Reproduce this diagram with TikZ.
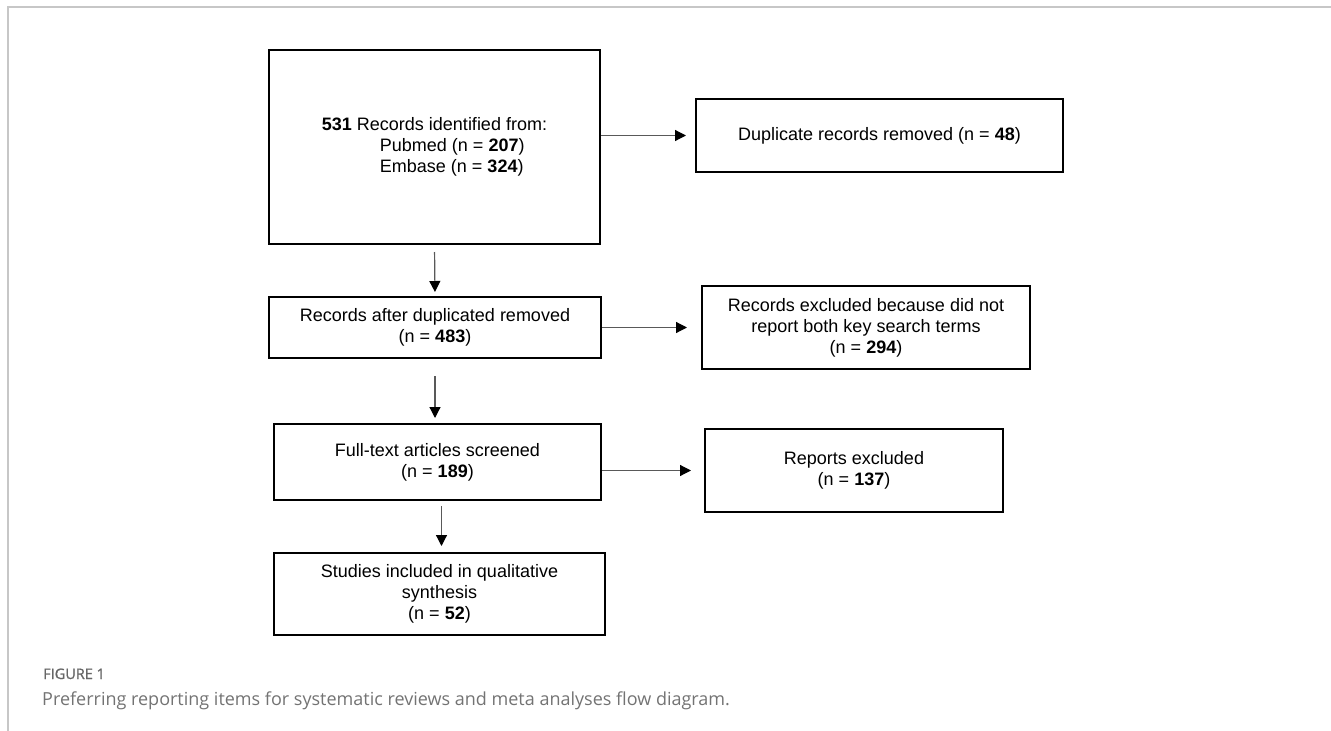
\documentclass[tikz,border=0pt]{standalone}
\usepackage{fontspec}
\setmainfont{Liberation Sans}
\newfontfamily\capfont{Open Sans}
\newfontfamily\figfont[FakeBold=1.2]{Open Sans}
\usetikzlibrary{arrows.meta}

\begin{document}
\begin{tikzpicture}[x=1pt, y=-1pt, font=\fontsize{18}{21}\selectfont,
    box/.style={draw, line width=2pt, inner sep=0pt, align=center},
    arr/.style={draw=black!65, line width=1.2pt,
      -{Triangle[length=11pt, width=11pt, color=black]}},
    caption/.style={anchor=base west, inner sep=0pt}]
  \useasboundingbox (0,0) rectangle (1331,731);
  \draw[black!22, line width=1.5pt] (8,731) -- (8,7) -- (1331,7);
  \node[box, align=left, minimum width=331pt, minimum height=194pt] (ident) at (434.5,147)
    {\textbf{531} Records identified from:\\
     \hspace*{58pt}Pubmed (n = \textbf{207})\\
     \hspace*{58pt}Embase (n = \textbf{324})};
  \node[box, minimum width=367pt, minimum height=73pt] (dup) at (879.5,135.5)
    {Duplicate records removed (n = \textbf{48})};
  \node[box, minimum width=332pt, minimum height=61pt] (after) at (435,327.5)
    {Records after duplicated removed\\(n = \textbf{483})};
  \node[box, minimum width=328pt, minimum height=83pt] (excl) at (866,327.5)
    {Records excluded because did not\\report both key search terms\\(n = \textbf{294})};
  \node[box, minimum width=327pt, minimum height=76pt] (full) at (437.5,462)
    {Full-text articles screened\\(n = \textbf{189})};
  \node[box, minimum width=298pt, minimum height=83pt] (reports) at (854,470.5)
    {Reports excluded\\(n = \textbf{137})};
  \node[box, minimum width=331pt, minimum height=82pt] (studies) at (439.5,594)
    {Studies included in qualitative\\synthesis\\(n = \textbf{52})};
  \draw[arr, shorten <=7pt, shorten >=4pt] (ident.south) -- (after.north);
  \draw[arr, shorten <=17pt, shorten >=5pt] (after.south) -- (after.south |- full.north);
  \draw[arr, shorten <=5pt, shorten >=6pt] ([xshift=4pt]full.south) -- ([xshift=4pt]full.south |- studies.north);
  \draw[arr, shorten >=9pt] (ident.east |- dup.west) -- (dup.west);
  \draw[arr, shorten >=14pt] (after.east) -- (excl.west);
  \draw[arr, shorten >=13pt] (full.east |- reports.west) -- (reports.west);
  \node[caption, font=\figfont\fontsize{14.5}{17}\selectfont, text=black!60] (fig) at (43,679) {FIGURE 1};
  \node[caption, font=\capfont\fontsize{18}{22}\selectfont, text=black!55] (cap) at (42,705)
    {Preferring reporting items for systematic reviews and meta analyses flow diagram.};
\end{tikzpicture}
\end{document}
